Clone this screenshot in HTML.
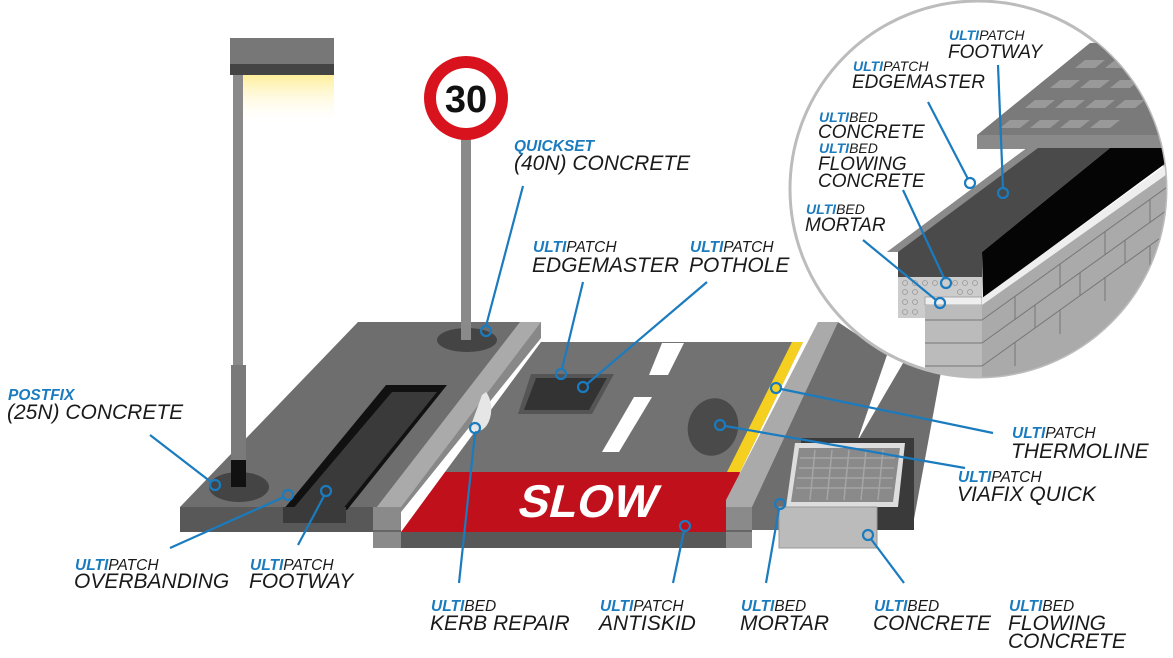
<!DOCTYPE html>
<html><head><meta charset="utf-8"><style>
html,body{margin:0;padding:0;background:#fff;}
svg{display:block;}
text{font-family:"Liberation Sans",sans-serif;font-style:italic;fill:#1a1a1a;}
.s{font-size:15.5px;}
.b{font-size:21px;}
.si{font-size:14px;}
.bi{font-size:19px;}
.u{fill:#1a7bbf;font-weight:bold;}
.l{stroke:#1a7bbf;stroke-width:2.2;fill:none;}
.c{stroke:#1a7bbf;stroke-width:2.2;fill:none;}
</style></head><body>
<svg width="1173" height="658" viewBox="0 0 1173 658" xmlns="http://www.w3.org/2000/svg">
<defs>
<linearGradient id="glow" x1="0" y1="0" x2="0" y2="1">
<stop offset="0" stop-color="#ffee99"/><stop offset="1" stop-color="#fff" stop-opacity="0"/>
</linearGradient>
<clipPath id="cc"><circle cx="978" cy="189" r="188"/></clipPath>
</defs>

<!-- lamp head -->
<rect x="230" y="38" width="104" height="28" fill="#777"/>
<rect x="230" y="64" width="104" height="11" fill="#444"/>
<rect x="233" y="75" width="101" height="50" fill="url(#glow)"/>

<!-- left slab -->
<polygon points="358,322 523,322 380,507 180,507" fill="#6e6e6e"/>
<rect x="180" y="507" width="195" height="25" fill="#585858"/>
<!-- channel -->
<polygon points="386,385 447,385 347,510 283,510" fill="#111"/>
<polygon points="392,392 437,392 342,510 292,510" fill="#3a3a3a"/>
<rect x="283" y="507" width="63" height="16" fill="#3a3a3a"/>
<!-- lamp pole -->
<rect x="233" y="75" width="10" height="300" fill="#8a8a8a"/>
<ellipse cx="239" cy="487" rx="30" ry="15" fill="#444"/>
<rect x="231" y="365" width="15" height="100" fill="#7a7a7a"/>
<rect x="231" y="460" width="15" height="27" fill="#111"/>
<!-- sign -->
<ellipse cx="467" cy="340" rx="30" ry="12" fill="#444"/>
<rect x="461" y="135" width="10" height="205" fill="#8a8a8a"/>
<circle cx="466" cy="98" r="42" fill="#d9131e"/>
<circle cx="466" cy="98" r="30" fill="#fff"/>
<text x="466" y="112" text-anchor="middle" style="font-style:normal;font-weight:bold;font-size:38px;fill:#111">30</text>

<!-- road -->
<polygon points="541,342 803,342 740,472 445,472" fill="#727272"/>
<polygon points="445,472 740,472 726,532 401,532" fill="#c0101c"/>
<rect x="401" y="532" width="325" height="16" fill="#585858"/>
<text x="0" y="0" text-anchor="middle" transform="translate(585,517) skewX(-14)" style="font-weight:bold;font-size:46px;fill:#fff;font-style:normal">SLOW</text>
<polygon points="531,374 614,374 592,414 518,414" fill="#555"/>
<polygon points="536,378 607,378 589,410 524,410" fill="#333"/>
<polygon points="662,343 684,343 668,375 649,375" fill="#fff"/>
<polygon points="634,397 652,397 619,452 602,452" fill="#fff"/>
<ellipse cx="713" cy="427" rx="25" ry="29" fill="#4a4a4a" transform="rotate(15 713 427)"/>
<polygon points="792,342 803,342 740,472 727,472" fill="#f5d020"/>
<!-- left kerb -->
<polygon points="520,322 541,322 541,338 401,512 373,512" fill="#aaa"/>
<polygon points="541,322 541,338 401,512 401,507" fill="#888"/>
<rect x="373" y="507" width="28" height="41" fill="#8a8a8a"/>
<rect x="373" y="530" width="28" height="2" fill="#666"/>
<path d="M486,392 A14,22 0 0 1 470,428 L482,395 Z" fill="#e6e6e6"/>
<!-- right kerb -->
<polygon points="818,322 838,322 752,510 726,510 726,500" fill="#aaa"/>
<rect x="726" y="507" width="26" height="41" fill="#8a8a8a"/>
<rect x="726" y="530" width="26" height="2" fill="#666"/>
<!-- right slab -->
<polygon points="838,322 892,358 945,350 912,530 752,530 752,507" fill="#6e6e6e"/>
<polygon points="887,355 906,358 857,442" fill="#fff"/>
<rect x="801" y="438" width="113" height="92" fill="#3a3a3a"/>
<polygon points="795,443 905,443 898,507 786,507" fill="#ddd"/>
<polygon points="799,448 900,448 893,502 791,502" fill="#8a8a8a"/>
<g stroke="#a5a5a5" stroke-width="1.5">
<line x1="800" y1="458" x2="895" y2="458"/><line x1="799" y1="468" x2="894" y2="468"/><line x1="797" y1="478" x2="893" y2="478"/><line x1="796" y1="488" x2="892" y2="488"/>
<line x1="815" y1="450" x2="810" y2="500"/><line x1="832" y1="450" x2="827" y2="500"/><line x1="849" y1="450" x2="844" y2="500"/><line x1="866" y1="450" x2="861" y2="500"/><line x1="883" y1="450" x2="878" y2="500"/>
</g>
<rect x="779" y="507" width="98" height="41" fill="#bbb" stroke="#999"/>

<!-- inset circle -->
<circle cx="978" cy="189" r="188" fill="#fff" stroke="#bcbcbc" stroke-width="3"/>
<g clip-path="url(#cc)">
<polygon points="977,135 1090,43 1180,43 1180,135" fill="#7a7a7a"/>
<g fill="#999">
<polygon points="1000,128 1020,128 1030,120 1010,120"/><polygon points="1030,128 1050,128 1060,120 1040,120"/><polygon points="1060,128 1080,128 1090,120 1070,120"/><polygon points="1090,128 1110,128 1120,120 1100,120"/>
<polygon points="1025,108 1045,108 1055,100 1035,100"/><polygon points="1055,108 1075,108 1085,100 1065,100"/><polygon points="1085,108 1105,108 1115,100 1095,100"/><polygon points="1115,108 1135,108 1145,100 1125,100"/>
<polygon points="1050,88 1070,88 1080,80 1060,80"/><polygon points="1080,88 1100,88 1110,80 1090,80"/><polygon points="1110,88 1130,88 1140,80 1120,80"/>
<polygon points="1075,68 1095,68 1105,60 1085,60"/><polygon points="1105,68 1125,68 1135,60 1115,60"/>
</g>
<rect x="977" y="135" width="200" height="14" fill="#8a8a8a"/>
<polygon points="887,252 1027,148 1110,148 982,252" fill="#4a4a4a"/>
<polygon points="887,252 1027,148 1038,148 898,252" fill="#8a8a8a"/>
<polygon points="982,252 1110,148 1170,148 1170,160 983,298" fill="#050505"/>
<rect x="898" y="252" width="84" height="25" fill="#4a4a4a"/>
<rect x="898" y="277" width="84" height="20" fill="#ccc"/>
<rect x="898" y="297" width="27" height="21" fill="#ccc"/>
<g fill="none" stroke="#999" stroke-width="0.8">
<circle cx="905" cy="283" r="2.5"/><circle cx="915" cy="283" r="2.5"/><circle cx="925" cy="283" r="2.5"/><circle cx="935" cy="283" r="2.5"/><circle cx="955" cy="283" r="2.5"/><circle cx="965" cy="283" r="2.5"/><circle cx="975" cy="283" r="2.5"/>
<circle cx="905" cy="292" r="2.5"/><circle cx="915" cy="292" r="2.5"/><circle cx="960" cy="292" r="2.5"/><circle cx="970" cy="292" r="2.5"/>
<circle cx="905" cy="302" r="2.5"/><circle cx="915" cy="302" r="2.5"/><circle cx="905" cy="312" r="2.5"/><circle cx="915" cy="312" r="2.5"/>
</g>
<rect x="925" y="297" width="57" height="8" fill="#eee" stroke="#999" stroke-width="0.8"/>
<polygon points="982,298 1170,162 1170,172 982,305" fill="#eee"/>
<polygon points="982,305 1170,172 1170,378 982,378" fill="#aaa"/>
<rect x="925" y="305" width="57" height="73" fill="#bbb"/>
<g stroke="#777" stroke-width="1" fill="none">
<line x1="925" y1="320" x2="982" y2="320"/><line x1="925" y1="343" x2="982" y2="343"/><line x1="925" y1="366" x2="982" y2="366"/>
<line x1="982" y1="320" x2="1170" y2="185"/><line x1="982" y1="343" x2="1170" y2="208"/><line x1="982" y1="366" x2="1170" y2="231"/>
<line x1="1015" y1="296" x2="1015" y2="320"/><line x1="1060" y1="264" x2="1060" y2="288"/><line x1="1105" y1="231" x2="1105" y2="255"/><line x1="1150" y1="199" x2="1150" y2="223"/>
<line x1="1035" y1="305" x2="1035" y2="328"/><line x1="1080" y1="273" x2="1080" y2="296"/><line x1="1125" y1="240" x2="1125" y2="264"/>
<line x1="1015" y1="342" x2="1015" y2="366"/><line x1="1060" y1="310" x2="1060" y2="334"/><line x1="1105" y1="277" x2="1105" y2="301"/><line x1="1150" y1="245" x2="1150" y2="269"/>
</g>
</g>

<!-- leader lines -->
<g>
<line class="l" x1="523" y1="186" x2="486" y2="326"/><circle class="c" cx="486" cy="331" r="5"/>
<line class="l" x1="583" y1="282" x2="562" y2="369"/><circle class="c" cx="561" cy="374" r="5"/>
<line class="l" x1="707" y1="282" x2="587" y2="384"/><circle class="c" cx="583" cy="387" r="5"/>
<line class="l" x1="150" y1="435" x2="211" y2="482"/><circle class="c" cx="215" cy="485" r="5"/>
<line class="l" x1="170" y1="548" x2="284" y2="497"/><circle class="c" cx="288" cy="495" r="5"/>
<line class="l" x1="298" y1="545" x2="324" y2="496"/><circle class="c" cx="326" cy="491" r="5"/>
<line class="l" x1="459" y1="583" x2="475" y2="433"/><circle class="c" cx="475" cy="428" r="5"/>
<line class="l" x1="673" y1="583" x2="684" y2="531"/><circle class="c" cx="685" cy="526" r="5"/>
<line class="l" x1="766" y1="583" x2="779" y2="509"/><circle class="c" cx="780" cy="504" r="5"/>
<line class="l" x1="904" y1="583" x2="871" y2="539"/><circle class="c" cx="868" cy="535" r="5"/>
<line class="l" x1="993" y1="433" x2="781" y2="389"/><circle class="c" cx="776" cy="388" r="5"/>
<line class="l" x1="965" y1="468" x2="725" y2="426"/><circle class="c" cx="720" cy="425" r="5"/>
<line class="l" x1="998" y1="65" x2="1003" y2="188"/><circle class="c" cx="1003" cy="193" r="5"/>
<line class="l" x1="928" y1="102" x2="968" y2="179"/><circle class="c" cx="970" cy="183" r="5"/>
<line class="l" x1="903" y1="190" x2="944" y2="278"/><circle class="c" cx="946" cy="283" r="5"/>
<line class="l" x1="863" y1="240" x2="936" y2="300"/><circle class="c" cx="940" cy="303" r="5"/>
</g>

<!-- labels -->
<text class="s" x="514" y="151"><tspan class="u">QUICKSET</tspan></text>
<text class="b" x="514" y="170">(40N) CONCRETE</text>
<text class="s" x="533" y="252"><tspan class="u">ULTI</tspan>PATCH</text>
<text class="b" x="532" y="272">EDGEMASTER</text>
<text class="s" x="690" y="252"><tspan class="u">ULTI</tspan>PATCH</text>
<text class="b" x="689" y="272">POTHOLE</text>
<text class="s" x="8" y="400"><tspan class="u">POSTFIX</tspan></text>
<text class="b" x="7" y="419">(25N) CONCRETE</text>
<text class="s" x="1012" y="438"><tspan class="u">ULTI</tspan>PATCH</text>
<text class="b" x="1011" y="458">THERMOLINE</text>
<text class="s" x="958" y="482"><tspan class="u">ULTI</tspan>PATCH</text>
<text class="b" x="957" y="501">VIAFIX QUICK</text>
<text class="s" x="75" y="570"><tspan class="u">ULTI</tspan>PATCH</text>
<text class="b" x="74" y="588">OVERBANDING</text>
<text class="s" x="250" y="570"><tspan class="u">ULTI</tspan>PATCH</text>
<text class="b" x="249" y="588">FOOTWAY</text>
<text class="s" x="431" y="611"><tspan class="u">ULTI</tspan>BED</text>
<text class="b" x="430" y="630">KERB REPAIR</text>
<text class="s" x="600" y="611"><tspan class="u">ULTI</tspan>PATCH</text>
<text class="b" x="599" y="630">ANTISKID</text>
<text class="s" x="741" y="611"><tspan class="u">ULTI</tspan>BED</text>
<text class="b" x="740" y="630">MORTAR</text>
<text class="s" x="874" y="611"><tspan class="u">ULTI</tspan>BED</text>
<text class="b" x="873" y="630">CONCRETE</text>
<text class="s" x="1009" y="611"><tspan class="u">ULTI</tspan>BED</text>
<text class="b" x="1008" y="630">FLOWING</text>
<text class="b" x="1008" y="648">CONCRETE</text>
<text class="si" x="949" y="40"><tspan class="u">ULTI</tspan>PATCH</text>
<text class="bi" x="948" y="58">FOOTWAY</text>
<text class="si" x="853" y="71"><tspan class="u">ULTI</tspan>PATCH</text>
<text class="bi" x="852" y="88">EDGEMASTER</text>
<text class="si" x="819" y="122"><tspan class="u">ULTI</tspan>BED</text>
<text class="bi" x="818" y="138">CONCRETE</text>
<text class="si" x="819" y="153"><tspan class="u">ULTI</tspan>BED</text>
<text class="bi" x="818" y="170">FLOWING</text>
<text class="bi" x="818" y="187">CONCRETE</text>
<text class="si" x="806" y="214"><tspan class="u">ULTI</tspan>BED</text>
<text class="bi" x="805" y="231">MORTAR</text>
</svg>
</body></html>
